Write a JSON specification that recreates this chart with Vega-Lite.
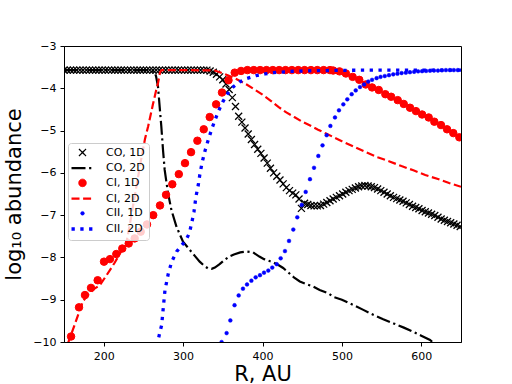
{
  "$schema": "https://vega.github.io/schema/vega-lite/v6.json",
  "autosize": {"type": "none"},
  "padding": {"left": 64, "top": 46, "right": 51, "bottom": 42},
  "width": 397,
  "height": 296,
  "background": "white",
  "config": {
    "view": {"stroke": "black", "strokeWidth": 1},
    "font": "DejaVu Sans",
    "axis": {"labelFont": "DejaVu Sans", "labelFontSize": 11, "labelColor": "black", "titleFont": "DejaVu Sans", "titleFontSize": 21, "titleFontWeight": "normal", "titleColor": "black", "tickColor": "black", "domainColor": "black", "grid": false, "tickSize": 4, "labelPadding": 4, "domainWidth": 1, "tickWidth": 1},
    "legend": {"labelFont": "DejaVu Sans", "labelFontSize": 11, "labelColor": "black", "fillColor": "rgba(255,255,255,0.8)", "strokeColor": "#cccccc", "cornerRadius": 3, "padding": 4, "rowPadding": 2.7, "labelOffset": 18, "symbolOffset": 5}
  },
  "data": {"values": [
    {"s":"CO, 1D","r":150,"v":-3.57},{"s":"CO, 1D","r":154,"v":-3.57},{"s":"CO, 1D","r":158,"v":-3.57},{"s":"CO, 1D","r":162,"v":-3.57},{"s":"CO, 1D","r":166,"v":-3.57},{"s":"CO, 1D","r":170,"v":-3.57},{"s":"CO, 1D","r":174,"v":-3.57},{"s":"CO, 1D","r":178,"v":-3.57},{"s":"CO, 1D","r":182,"v":-3.57},{"s":"CO, 1D","r":186,"v":-3.57},{"s":"CO, 1D","r":190,"v":-3.57},{"s":"CO, 1D","r":194,"v":-3.57},{"s":"CO, 1D","r":198,"v":-3.57},{"s":"CO, 1D","r":202,"v":-3.57},{"s":"CO, 1D","r":206,"v":-3.57},{"s":"CO, 1D","r":210,"v":-3.57},{"s":"CO, 1D","r":214,"v":-3.57},{"s":"CO, 1D","r":218,"v":-3.57},{"s":"CO, 1D","r":222,"v":-3.57},{"s":"CO, 1D","r":226,"v":-3.57},{"s":"CO, 1D","r":230,"v":-3.57},{"s":"CO, 1D","r":234,"v":-3.57},{"s":"CO, 1D","r":238,"v":-3.57},{"s":"CO, 1D","r":242,"v":-3.57},{"s":"CO, 1D","r":246,"v":-3.57},{"s":"CO, 1D","r":250,"v":-3.57},{"s":"CO, 1D","r":254,"v":-3.57},{"s":"CO, 1D","r":258,"v":-3.57},{"s":"CO, 1D","r":262,"v":-3.57},{"s":"CO, 1D","r":266,"v":-3.57},{"s":"CO, 1D","r":270,"v":-3.57},{"s":"CO, 1D","r":274,"v":-3.57},{"s":"CO, 1D","r":278,"v":-3.57},{"s":"CO, 1D","r":282,"v":-3.57},{"s":"CO, 1D","r":286,"v":-3.57},{"s":"CO, 1D","r":290,"v":-3.57},{"s":"CO, 1D","r":294,"v":-3.57},{"s":"CO, 1D","r":298,"v":-3.57},{"s":"CO, 1D","r":302,"v":-3.57},{"s":"CO, 1D","r":306,"v":-3.57},{"s":"CO, 1D","r":310,"v":-3.57},{"s":"CO, 1D","r":314,"v":-3.57},{"s":"CO, 1D","r":318,"v":-3.57},{"s":"CO, 1D","r":322,"v":-3.57},{"s":"CO, 1D","r":326,"v":-3.57},{"s":"CO, 1D","r":330,"v":-3.57},
    {"s":"CO, 1D","r":334,"v":-3.59},{"s":"CO, 1D","r":338,"v":-3.62},{"s":"CO, 1D","r":342,"v":-3.67},{"s":"CO, 1D","r":346,"v":-3.73},{"s":"CO, 1D","r":350,"v":-3.8},{"s":"CO, 1D","r":354,"v":-3.9},{"s":"CO, 1D","r":358,"v":-4.03},{"s":"CO, 1D","r":362,"v":-4.22},{"s":"CO, 1D","r":366,"v":-4.43},{"s":"CO, 1D","r":370,"v":-4.66},{"s":"CO, 1D","r":374,"v":-4.8},{"s":"CO, 1D","r":378,"v":-4.94},{"s":"CO, 1D","r":382,"v":-5.08},{"s":"CO, 1D","r":386,"v":-5.21},{"s":"CO, 1D","r":390,"v":-5.33},{"s":"CO, 1D","r":394,"v":-5.44},{"s":"CO, 1D","r":398,"v":-5.54},{"s":"CO, 1D","r":402,"v":-5.65},{"s":"CO, 1D","r":406,"v":-5.77},{"s":"CO, 1D","r":410,"v":-5.89},{"s":"CO, 1D","r":414,"v":-6.0},{"s":"CO, 1D","r":418,"v":-6.08},{"s":"CO, 1D","r":422,"v":-6.17},{"s":"CO, 1D","r":426,"v":-6.26},{"s":"CO, 1D","r":430,"v":-6.35},{"s":"CO, 1D","r":434,"v":-6.42},{"s":"CO, 1D","r":438,"v":-6.48},{"s":"CO, 1D","r":442,"v":-6.52},{"s":"CO, 1D","r":446,"v":-6.62},{"s":"CO, 1D","r":449,"v":-6.84},{"s":"CO, 1D","r":453,"v":-6.72},{"s":"CO, 1D","r":457,"v":-6.75},{"s":"CO, 1D","r":461,"v":-6.77},{"s":"CO, 1D","r":465,"v":-6.78},{"s":"CO, 1D","r":469,"v":-6.78},{"s":"CO, 1D","r":473,"v":-6.77},{"s":"CO, 1D","r":477,"v":-6.74},{"s":"CO, 1D","r":481,"v":-6.7},{"s":"CO, 1D","r":485,"v":-6.66},{"s":"CO, 1D","r":489,"v":-6.62},{"s":"CO, 1D","r":493,"v":-6.58},{"s":"CO, 1D","r":497,"v":-6.54},{"s":"CO, 1D","r":501,"v":-6.5},{"s":"CO, 1D","r":505,"v":-6.46},{"s":"CO, 1D","r":509,"v":-6.42},{"s":"CO, 1D","r":513,"v":-6.39},{"s":"CO, 1D","r":517,"v":-6.36},{"s":"CO, 1D","r":521,"v":-6.33},{"s":"CO, 1D","r":525,"v":-6.31},{"s":"CO, 1D","r":529,"v":-6.3},{"s":"CO, 1D","r":533,"v":-6.31},{"s":"CO, 1D","r":537,"v":-6.33},{"s":"CO, 1D","r":541,"v":-6.35},{"s":"CO, 1D","r":545,"v":-6.38},{"s":"CO, 1D","r":549,"v":-6.42},{"s":"CO, 1D","r":553,"v":-6.46},{"s":"CO, 1D","r":557,"v":-6.5},{"s":"CO, 1D","r":561,"v":-6.54},{"s":"CO, 1D","r":565,"v":-6.58},{"s":"CO, 1D","r":569,"v":-6.61},{"s":"CO, 1D","r":573,"v":-6.64},{"s":"CO, 1D","r":577,"v":-6.67},{"s":"CO, 1D","r":581,"v":-6.71},{"s":"CO, 1D","r":585,"v":-6.75},{"s":"CO, 1D","r":589,"v":-6.79},{"s":"CO, 1D","r":593,"v":-6.82},{"s":"CO, 1D","r":597,"v":-6.85},{"s":"CO, 1D","r":601,"v":-6.89},{"s":"CO, 1D","r":605,"v":-6.92},{"s":"CO, 1D","r":609,"v":-6.95},{"s":"CO, 1D","r":613,"v":-6.98},{"s":"CO, 1D","r":617,"v":-7.01},{"s":"CO, 1D","r":621,"v":-7.05},{"s":"CO, 1D","r":625,"v":-7.09},{"s":"CO, 1D","r":629,"v":-7.12},{"s":"CO, 1D","r":633,"v":-7.15},{"s":"CO, 1D","r":637,"v":-7.18},{"s":"CO, 1D","r":641,"v":-7.21},{"s":"CO, 1D","r":645,"v":-7.24},{"s":"CO, 1D","r":649,"v":-7.27},

    {"s":"CO, 2D","r":150,"v":-3.57},{"s":"CO, 2D","r":200,"v":-3.57},{"s":"CO, 2D","r":255,"v":-3.57},{"s":"CO, 2D","r":261,"v":-3.58},{"s":"CO, 2D","r":264,"v":-3.61},{"s":"CO, 2D","r":266,"v":-3.72},{"s":"CO, 2D","r":268.4,"v":-3.96},{"s":"CO, 2D","r":270.5,"v":-4.44},{"s":"CO, 2D","r":272.6,"v":-4.91},{"s":"CO, 2D","r":274.7,"v":-5.46},{"s":"CO, 2D","r":276.8,"v":-5.93},{"s":"CO, 2D","r":281,"v":-6.48},{"s":"CO, 2D","r":285.3,"v":-6.88},{"s":"CO, 2D","r":291.6,"v":-7.27},{"s":"CO, 2D","r":299.9,"v":-7.63},{"s":"CO, 2D","r":308.3,"v":-7.82},{"s":"CO, 2D","r":315,"v":-7.97},{"s":"CO, 2D","r":320.9,"v":-8.1},{"s":"CO, 2D","r":326,"v":-8.19},{"s":"CO, 2D","r":331.4,"v":-8.26},{"s":"CO, 2D","r":336,"v":-8.27},{"s":"CO, 2D","r":340,"v":-8.24},{"s":"CO, 2D","r":346,"v":-8.16},{"s":"CO, 2D","r":352,"v":-8.06},{"s":"CO, 2D","r":358,"v":-7.98},{"s":"CO, 2D","r":364,"v":-7.93},{"s":"CO, 2D","r":372,"v":-7.88},{"s":"CO, 2D","r":380,"v":-7.86},{"s":"CO, 2D","r":388,"v":-7.88},{"s":"CO, 2D","r":396,"v":-7.98},{"s":"CO, 2D","r":402,"v":-8.04},{"s":"CO, 2D","r":408,"v":-8.08},{"s":"CO, 2D","r":414,"v":-8.12},{"s":"CO, 2D","r":420,"v":-8.18},{"s":"CO, 2D","r":426,"v":-8.25},{"s":"CO, 2D","r":434,"v":-8.38},{"s":"CO, 2D","r":440,"v":-8.48},{"s":"CO, 2D","r":447,"v":-8.57},{"s":"CO, 2D","r":455,"v":-8.63},{"s":"CO, 2D","r":464,"v":-8.69},{"s":"CO, 2D","r":472,"v":-8.77},{"s":"CO, 2D","r":483,"v":-8.85},{"s":"CO, 2D","r":489,"v":-8.93},{"s":"CO, 2D","r":500,"v":-9.0},{"s":"CO, 2D","r":514,"v":-9.12},{"s":"CO, 2D","r":527,"v":-9.24},{"s":"CO, 2D","r":540,"v":-9.36},{"s":"CO, 2D","r":552,"v":-9.46},{"s":"CO, 2D","r":565,"v":-9.56},{"s":"CO, 2D","r":578,"v":-9.66},{"s":"CO, 2D","r":590,"v":-9.76},{"s":"CO, 2D","r":600,"v":-9.85},{"s":"CO, 2D","r":611,"v":-9.95},{"s":"CO, 2D","r":617,"v":-10.05},

    {"s":"CI, 1D","r":158.9,"v":-9.87},{"s":"CI, 1D","r":168.9,"v":-9.18},{"s":"CI, 1D","r":176.4,"v":-8.89},{"s":"CI, 1D","r":184,"v":-8.72},{"s":"CI, 1D","r":192.4,"v":-8.54},{"s":"CI, 1D","r":200.4,"v":-8.1},{"s":"CI, 1D","r":207.9,"v":-8.04},{"s":"CI, 1D","r":215.9,"v":-7.92},{"s":"CI, 1D","r":223.4,"v":-7.79},{"s":"CI, 1D","r":231.5,"v":-7.67},{"s":"CI, 1D","r":239,"v":-7.55},{"s":"CI, 1D","r":246.6,"v":-7.39},{"s":"CI, 1D","r":254.5,"v":-7.22},{"s":"CI, 1D","r":262.4,"v":-7.0},{"s":"CI, 1D","r":270.9,"v":-6.77},{"s":"CI, 1D","r":278.5,"v":-6.52},{"s":"CI, 1D","r":286.4,"v":-6.27},{"s":"CI, 1D","r":294.6,"v":-6.03},{"s":"CI, 1D","r":302.4,"v":-5.77},{"s":"CI, 1D","r":310,"v":-5.51},{"s":"CI, 1D","r":318,"v":-5.24},{"s":"CI, 1D","r":326,"v":-4.97},{"s":"CI, 1D","r":333.5,"v":-4.68},{"s":"CI, 1D","r":341.6,"v":-4.38},{"s":"CI, 1D","r":349,"v":-4.1},{"s":"CI, 1D","r":357.2,"v":-3.81},{"s":"CI, 1D","r":365,"v":-3.63},{"s":"CI, 1D","r":373,"v":-3.59},{"s":"CI, 1D","r":381,"v":-3.57},{"s":"CI, 1D","r":389,"v":-3.57},{"s":"CI, 1D","r":397,"v":-3.57},{"s":"CI, 1D","r":405,"v":-3.57},{"s":"CI, 1D","r":413,"v":-3.57},{"s":"CI, 1D","r":421,"v":-3.57},{"s":"CI, 1D","r":429,"v":-3.57},{"s":"CI, 1D","r":437,"v":-3.57},{"s":"CI, 1D","r":445,"v":-3.57},{"s":"CI, 1D","r":453,"v":-3.57},{"s":"CI, 1D","r":461,"v":-3.57},{"s":"CI, 1D","r":469,"v":-3.57},{"s":"CI, 1D","r":477,"v":-3.57},{"s":"CI, 1D","r":485,"v":-3.57},{"s":"CI, 1D","r":489,"v":-3.58},{"s":"CI, 1D","r":497,"v":-3.6},{"s":"CI, 1D","r":505,"v":-3.65},{"s":"CI, 1D","r":513.5,"v":-3.73},{"s":"CI, 1D","r":521.9,"v":-3.8},{"s":"CI, 1D","r":530,"v":-3.91},{"s":"CI, 1D","r":538,"v":-3.98},{"s":"CI, 1D","r":546.4,"v":-4.04},{"s":"CI, 1D","r":554.7,"v":-4.14},{"s":"CI, 1D","r":562,"v":-4.2},{"s":"CI, 1D","r":570.3,"v":-4.28},{"s":"CI, 1D","r":577.9,"v":-4.37},{"s":"CI, 1D","r":585.8,"v":-4.46},{"s":"CI, 1D","r":593.3,"v":-4.54},{"s":"CI, 1D","r":601,"v":-4.62},{"s":"CI, 1D","r":609.3,"v":-4.69},{"s":"CI, 1D","r":616.4,"v":-4.79},{"s":"CI, 1D","r":624.8,"v":-4.87},{"s":"CI, 1D","r":632.4,"v":-4.97},{"s":"CI, 1D","r":640.3,"v":-5.06},{"s":"CI, 1D","r":647.9,"v":-5.16},

    {"s":"CI, 2D","r":150,"v":-10.3},{"s":"CI, 2D","r":156,"v":-9.98},{"s":"CI, 2D","r":164,"v":-9.56},{"s":"CI, 2D","r":174,"v":-9.03},{"s":"CI, 2D","r":182,"v":-8.85},{"s":"CI, 2D","r":189,"v":-8.73},{"s":"CI, 2D","r":195,"v":-8.66},{"s":"CI, 2D","r":204,"v":-8.41},{"s":"CI, 2D","r":214,"v":-8.12},{"s":"CI, 2D","r":222,"v":-7.86},{"s":"CI, 2D","r":228,"v":-7.72},{"s":"CI, 2D","r":234,"v":-7.1},{"s":"CI, 2D","r":240,"v":-6.45},{"s":"CI, 2D","r":247,"v":-5.7},{"s":"CI, 2D","r":252,"v":-5.2},{"s":"CI, 2D","r":256,"v":-4.9},{"s":"CI, 2D","r":262,"v":-4.38},{"s":"CI, 2D","r":266,"v":-4.05},{"s":"CI, 2D","r":268.5,"v":-3.87},{"s":"CI, 2D","r":271,"v":-3.62},{"s":"CI, 2D","r":273,"v":-3.57},{"s":"CI, 2D","r":300,"v":-3.57},{"s":"CI, 2D","r":340,"v":-3.58},{"s":"CI, 2D","r":346,"v":-3.62},{"s":"CI, 2D","r":352,"v":-3.66},{"s":"CI, 2D","r":360,"v":-3.72},{"s":"CI, 2D","r":370,"v":-3.81},{"s":"CI, 2D","r":380,"v":-3.91},{"s":"CI, 2D","r":390,"v":-4.03},{"s":"CI, 2D","r":400,"v":-4.15},{"s":"CI, 2D","r":410,"v":-4.29},{"s":"CI, 2D","r":420,"v":-4.44},{"s":"CI, 2D","r":430,"v":-4.57},{"s":"CI, 2D","r":440,"v":-4.68},{"s":"CI, 2D","r":450,"v":-4.79},{"s":"CI, 2D","r":460,"v":-4.88},{"s":"CI, 2D","r":470,"v":-4.98},{"s":"CI, 2D","r":480,"v":-5.07},{"s":"CI, 2D","r":490,"v":-5.16},{"s":"CI, 2D","r":500,"v":-5.25},{"s":"CI, 2D","r":515,"v":-5.38},{"s":"CI, 2D","r":530,"v":-5.51},{"s":"CI, 2D","r":545,"v":-5.63},{"s":"CI, 2D","r":560,"v":-5.73},{"s":"CI, 2D","r":575,"v":-5.84},{"s":"CI, 2D","r":590,"v":-5.94},{"s":"CI, 2D","r":605,"v":-6.05},{"s":"CI, 2D","r":620,"v":-6.14},{"s":"CI, 2D","r":635,"v":-6.24},{"s":"CI, 2D","r":650,"v":-6.33},

    {"s":"CII, 1D","r":344,"v":-10.2},{"s":"CII, 1D","r":348.5,"v":-10.0},{"s":"CII, 1D","r":354.8,"v":-9.79},{"s":"CII, 1D","r":359.5,"v":-9.49},{"s":"CII, 1D","r":364.8,"v":-9.13},{"s":"CII, 1D","r":370,"v":-8.9},{"s":"CII, 1D","r":375.4,"v":-8.74},{"s":"CII, 1D","r":380.5,"v":-8.64},{"s":"CII, 1D","r":386,"v":-8.55},{"s":"CII, 1D","r":391.4,"v":-8.47},{"s":"CII, 1D","r":396.8,"v":-8.42},{"s":"CII, 1D","r":401.9,"v":-8.36},{"s":"CII, 1D","r":407.3,"v":-8.31},{"s":"CII, 1D","r":412.3,"v":-8.24},{"s":"CII, 1D","r":417.9,"v":-8.16},{"s":"CII, 1D","r":422.9,"v":-8.02},{"s":"CII, 1D","r":428.3,"v":-7.85},{"s":"CII, 1D","r":433.4,"v":-7.61},{"s":"CII, 1D","r":438.8,"v":-7.34},{"s":"CII, 1D","r":443.8,"v":-7.05},{"s":"CII, 1D","r":449.4,"v":-6.76},{"s":"CII, 1D","r":454.4,"v":-6.45},{"s":"CII, 1D","r":459.8,"v":-6.15},{"s":"CII, 1D","r":464.9,"v":-5.88},{"s":"CII, 1D","r":470.3,"v":-5.6},{"s":"CII, 1D","r":475.6,"v":-5.35},{"s":"CII, 1D","r":480.8,"v":-5.11},{"s":"CII, 1D","r":485.5,"v":-4.89},{"s":"CII, 1D","r":491.3,"v":-4.69},{"s":"CII, 1D","r":496.3,"v":-4.52},{"s":"CII, 1D","r":501.8,"v":-4.38},{"s":"CII, 1D","r":506.8,"v":-4.26},{"s":"CII, 1D","r":512.3,"v":-4.14},{"s":"CII, 1D","r":517.4,"v":-4.05},{"s":"CII, 1D","r":522.8,"v":-3.97},{"s":"CII, 1D","r":528,"v":-3.91},{"s":"CII, 1D","r":533.2,"v":-3.84},{"s":"CII, 1D","r":538,"v":-3.8},{"s":"CII, 1D","r":543.7,"v":-3.76},{"s":"CII, 1D","r":548.7,"v":-3.73},{"s":"CII, 1D","r":554,"v":-3.71},{"s":"CII, 1D","r":559.3,"v":-3.69},{"s":"CII, 1D","r":564.7,"v":-3.67},{"s":"CII, 1D","r":570,"v":-3.655},{"s":"CII, 1D","r":575.2,"v":-3.64},{"s":"CII, 1D","r":580.5,"v":-3.63},{"s":"CII, 1D","r":585.7,"v":-3.62},{"s":"CII, 1D","r":591,"v":-3.61},{"s":"CII, 1D","r":596,"v":-3.6},{"s":"CII, 1D","r":601,"v":-3.595},{"s":"CII, 1D","r":606,"v":-3.59},{"s":"CII, 1D","r":611,"v":-3.585},{"s":"CII, 1D","r":616,"v":-3.58},{"s":"CII, 1D","r":621,"v":-3.58},{"s":"CII, 1D","r":626,"v":-3.575},{"s":"CII, 1D","r":631,"v":-3.57},{"s":"CII, 1D","r":636,"v":-3.57},{"s":"CII, 1D","r":641,"v":-3.57},{"s":"CII, 1D","r":646,"v":-3.57},

    {"s":"CII, 2D","r":265,"v":-10.3},{"s":"CII, 2D","r":270,"v":-9.83},{"s":"CII, 2D","r":273,"v":-9.6},{"s":"CII, 2D","r":275,"v":-9.2},{"s":"CII, 2D","r":277.2,"v":-8.77},{"s":"CII, 2D","r":281.4,"v":-8.38},{"s":"CII, 2D","r":285.7,"v":-8.1},{"s":"CII, 2D","r":292,"v":-7.86},{"s":"CII, 2D","r":298.3,"v":-7.71},{"s":"CII, 2D","r":303.6,"v":-7.59},{"s":"CII, 2D","r":307.8,"v":-7.43},{"s":"CII, 2D","r":310.8,"v":-7.19},{"s":"CII, 2D","r":313.7,"v":-6.92},{"s":"CII, 2D","r":316.2,"v":-6.56},{"s":"CII, 2D","r":319.1,"v":-6.29},{"s":"CII, 2D","r":321,"v":-6.05},{"s":"CII, 2D","r":324,"v":-5.75},{"s":"CII, 2D","r":328,"v":-5.45},{"s":"CII, 2D","r":332,"v":-5.2},{"s":"CII, 2D","r":336,"v":-4.97},{"s":"CII, 2D","r":340,"v":-4.76},{"s":"CII, 2D","r":345,"v":-4.52},{"s":"CII, 2D","r":350,"v":-4.32},{"s":"CII, 2D","r":356,"v":-4.13},{"s":"CII, 2D","r":363,"v":-3.97},{"s":"CII, 2D","r":371,"v":-3.85},{"s":"CII, 2D","r":380,"v":-3.77},{"s":"CII, 2D","r":392,"v":-3.7},{"s":"CII, 2D","r":403,"v":-3.66},{"s":"CII, 2D","r":414,"v":-3.63},{"s":"CII, 2D","r":435,"v":-3.6},{"s":"CII, 2D","r":460,"v":-3.585},{"s":"CII, 2D","r":500,"v":-3.575},{"s":"CII, 2D","r":550,"v":-3.57},{"s":"CII, 2D","r":650,"v":-3.57}
  ]},
  "encoding": {
    "x": {"field": "r", "type": "quantitative", "scale": {"domain": [150, 650], "nice": false, "zero": false}, "axis": {"values": [200, 300, 400, 500, 600], "format": "d", "title": "R, AU", "titlePadding": 2}},
    "y": {"field": "v", "type": "quantitative", "scale": {"domain": [-10, -3], "nice": false, "zero": false}, "axis": {"values": [-10, -9, -8, -7, -6, -5, -4, -3], "format": "d", "title": "log₁₀ abundance", "titlePadding": 8}},
    "stroke": {"field": "s", "type": "nominal",
      "scale": {"domain": ["CO, 1D","CO, 2D","CI, 1D","CI, 2D","CII, 1D","CII, 2D"], "range": ["#000000","#000000","#ff0000","#ff0000","#0000ff","#0000ff"]},
      "legend": {"title": null, "orient": "none", "legendX": 4, "legendY": 97,
        "encode": {"symbols": {"update": {
          "shape": {"signal": "datum.value === 'CO, 1D' ? 'M-1,-1L1,1M-1,1L1,-1' : (datum.value === 'CI, 1D' || datum.value === 'CII, 1D') ? 'circle' : 'M-2.75,0L2.75,0'"},
          "size": {"signal": "datum.value === 'CO, 1D' ? 49 : datum.value === 'CI, 1D' ? 56 : datum.value === 'CII, 1D' ? 14 : 64"},
          "fill": {"signal": "datum.value === 'CI, 1D' ? '#ff0000' : datum.value === 'CII, 1D' ? '#0000ff' : 'transparent'"},
          "strokeDash": {"signal": "datum.value === 'CO, 2D' ? [14,3.6,2.2,3.6] : datum.value === 'CI, 2D' ? [8,3.6] : datum.value === 'CII, 2D' ? [3.3,5.5] : [1,0]"},
          "strokeWidth": {"signal": "datum.value === 'CO, 1D' ? 1.3 : datum.value === 'CO, 2D' ? 2.2 : datum.value === 'CI, 1D' ? 1 : datum.value === 'CI, 2D' ? 2.2 : datum.value === 'CII, 1D' ? 0.5 : 3.3"},
          "opacity": {"value": 1}
        }}}
      }
    }
  },
  "layer": [
    {"transform": [{"filter": "datum.s === 'CO, 1D'"}],
     "mark": {"type": "point", "clip": true, "opacity": 1, "shape": "M-1,-1L1,1M-1,1L1,-1", "size": 49, "strokeWidth": 1.3, "filled": false}},
    {"transform": [{"filter": "datum.s === 'CO, 2D'"}],
     "mark": {"type": "line", "clip": true, "strokeWidth": 2.2, "strokeDash": [14, 3.6, 2.2, 3.6]}},
    {"transform": [{"filter": "datum.s === 'CI, 1D'"}],
     "mark": {"type": "point", "clip": true, "opacity": 1, "shape": "circle", "size": 56, "strokeWidth": 1, "fill": "#ff0000", "filled": true}},
    {"transform": [{"filter": "datum.s === 'CI, 2D'"}],
     "mark": {"type": "line", "clip": true, "strokeWidth": 2.2, "strokeDash": [8, 3.6]}},
    {"transform": [{"filter": "datum.s === 'CII, 1D'"}],
     "mark": {"type": "point", "clip": true, "opacity": 1, "shape": "circle", "size": 14, "strokeWidth": 0.5, "fill": "#0000ff", "filled": true}},
    {"transform": [{"filter": "datum.s === 'CII, 2D'"}],
     "mark": {"type": "line", "clip": true, "strokeWidth": 3.3, "strokeDash": [3.3, 5.5]}}
  ]
}
